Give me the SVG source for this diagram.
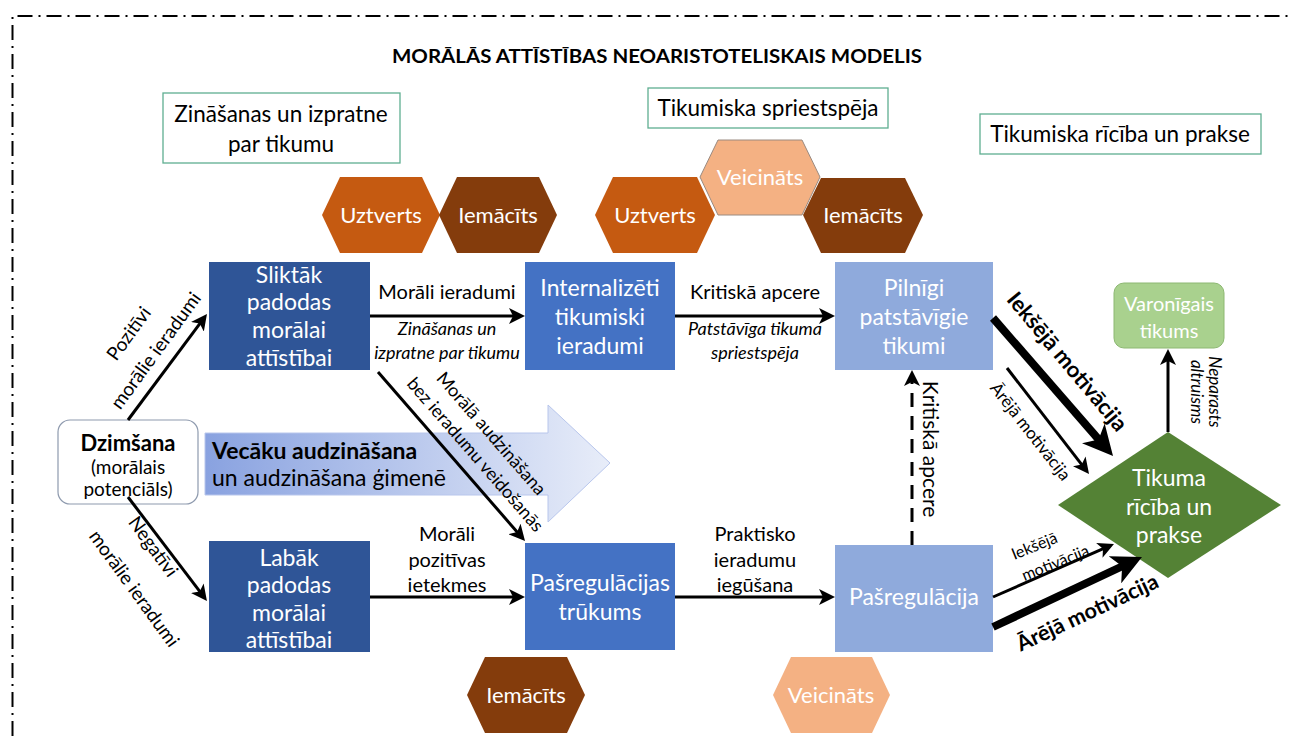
<svg xmlns="http://www.w3.org/2000/svg" width="1290" height="736" viewBox="0 0 1290 736">
<style>
text{font-family:Lato,"Open Sans","DejaVu Sans",sans-serif;fill:#000}
.t{font-size:20px;text-anchor:middle}
.bx{font-size:22.5px;text-anchor:middle}
.it{font-size:18px;font-style:italic;text-anchor:middle}
.w{fill:#fff;font-size:23px;text-anchor:middle}
.hx{fill:#fff;font-size:22px;text-anchor:middle}
.rot{dominant-baseline:central;text-anchor:middle}
.ln{stroke:#000;stroke-width:3;fill:none}
.thick{stroke:#000;stroke-width:8;fill:none}
.lbl{fill:#fff;stroke:#5FAE91;stroke-width:1.3}
</style>
<defs>
<marker id="ah" markerUnits="userSpaceOnUse" viewBox="0 0 16 16" markerWidth="16" markerHeight="16" refX="5" refY="8" orient="auto"><path d="M0,0 L16,8 L0,16 L4,8 z" fill="#000"/></marker>
<marker id="ahb" markerUnits="userSpaceOnUse" viewBox="0 0 30 30" markerWidth="30" markerHeight="30" refX="10" refY="15" orient="auto"><path d="M0,0 L30,15 L0,30 L8,15 z" fill="#000"/></marker>
<linearGradient id="gr" x1="0" y1="0" x2="1" y2="0"><stop offset="0" stop-color="#89A2E0"/><stop offset="1" stop-color="#E8EDF9"/></linearGradient>
</defs>
<rect width="1290" height="736" fill="#fff"/>
<path d="M12.5,736 L12.5,16 L1290,16" fill="none" stroke="#000" stroke-width="2" stroke-dasharray="15 6 2 6"/>
<text x="657" y="63" style="font-size:18px;font-weight:bold;text-anchor:middle" textLength="530" lengthAdjust="spacingAndGlyphs">MORĀLĀS ATTĪSTĪBAS NEOARISTOTELISKAIS MODELIS</text>

<g id="box-zinasanas"><rect class="lbl" x="163" y="93" width="237" height="70"/><text class="bx" x="281" y="122">Zināšanas un izpratne</text><text class="bx" x="281" y="152">par tikumu</text></g>
<g id="box-spriestspeja"><rect class="lbl" x="648" y="88" width="240" height="40"/><text class="bx" x="768" y="116">Tikumiska spriestspēja</text></g>
<g id="box-ririba"><rect class="lbl" x="980" y="114" width="281" height="40"/><text class="bx" x="1120" y="142">Tikumiska rīcība un prakse</text></g>

<g id="big-arrow"><path d="M205,433 L548,433 L548,405 L610,463 L548,522 L548,495 L205,495 z" fill="url(#gr)" stroke="#B8C6EC" stroke-width="1"/>
<text x="212" y="459" style="font-size:23px;font-weight:bold">Vecāku audzināšana</text><text x="212" y="486" style="font-size:23px">un audzināšana ģimenē</text></g>

<g id="hex-uztverts-1"><polygon points="322,215 340,177 422,177 440,215 422,253 340,253" fill="#C55A11"/><text class="hx" x="381" y="223">Uztverts</text></g>
<g id="hex-iemacits-1"><polygon points="439,215 457,177 539,177 557,215 539,253 457,253" fill="#843C0C"/><text class="hx" x="498" y="223">Iemācīts</text></g>
<g id="hex-uztverts-2"><polygon points="595,215 613,177 697,177 715,215 697,253 613,253" fill="#C55A11"/><text class="hx" x="655" y="223">Uztverts</text></g>
<g id="hex-veicinats-1"><polygon points="700,177 718,140 802,140 820,177 802,215 718,215" fill="#F4B183" stroke="#9A8A80" stroke-width="1"/><text class="hx" x="760" y="185">Veicināts</text></g>
<g id="hex-iemacits-2"><polygon points="803,215 821,178 905,178 923,215 905,253 821,253" fill="#843C0C"/><text class="hx" x="863" y="223">Iemācīts</text></g>
<g id="hex-iemacits-3"><polygon points="467,695 485,657 567,657 585,695 567,733 485,733" fill="#843C0C"/><text class="hx" x="526" y="703">Iemācīts</text></g>
<g id="hex-veicinats-2"><polygon points="773,695 791,657 872,657 890,695 872,733 791,733" fill="#F4B183"/><text class="hx" x="831" y="703">Veicināts</text></g>

<g id="n-dzimsana"><rect x="58" y="420" width="140" height="84" rx="12" fill="#fff" stroke="#8E9AAE" stroke-width="1.2"/><text x="128" y="451" style="font-size:22px;font-weight:bold;text-anchor:middle">Dzimšana</text><text x="128" y="474" style="font-size:19px;text-anchor:middle">(morālais</text><text x="128" y="496" style="font-size:19px;text-anchor:middle">potenciāls)</text></g>
<g id="n-sliktak"><rect x="209" y="262" width="161" height="108" fill="#2F5597"/><text class="w" x="289" y="283">Sliktāk</text><text class="w" x="289" y="310">padodas</text><text class="w" x="289" y="338">morālai</text><text class="w" x="289" y="366">attīstībai</text></g>
<g id="n-labak"><rect x="209" y="541" width="161" height="111" fill="#2F5597"/><text class="w" x="289" y="566">Labāk</text><text class="w" x="289" y="593">padodas</text><text class="w" x="289" y="621">morālai</text><text class="w" x="289" y="648">attīstībai</text></g>
<g id="n-internalizeti"><rect x="525" y="262" width="150" height="108" fill="#4472C4"/><text class="w" x="600" y="296">Internalizēti</text><text class="w" x="600" y="325">tikumiski</text><text class="w" x="600" y="354">ieradumi</text></g>
<g id="n-trukums"><rect x="525" y="543" width="150" height="107" fill="#4472C4"/><text class="w" x="600" y="591">Pašregulācijas</text><text class="w" x="600" y="620">trūkums</text></g>
<g id="n-pilnigi"><rect x="835" y="262" width="158" height="108" fill="#8FAADC"/><text class="w" x="914" y="296">Pilnīgi</text><text class="w" x="914" y="325">patstāvīgie</text><text class="w" x="914" y="354">tikumi</text></g>
<g id="n-pasregulacija"><rect x="835" y="545" width="158" height="107" fill="#8FAADC"/><text class="w" x="914" y="605">Pašregulācija</text></g>
<g id="n-varonigais"><rect x="1114" y="283" width="110" height="65" rx="10" fill="#A9D18E" stroke="#8DB873" stroke-width="1"/><text class="w" style="font-size:20px" x="1169" y="311">Varonīgais</text><text class="w" style="font-size:20px" x="1169" y="338">tikums</text></g>
<g id="n-tikuma"><polygon points="1168,432 1281,505 1168,578 1058,505" fill="#548235"/><text class="w" x="1169" y="486">Tikuma</text><text class="w" x="1169" y="515">rīcība un</text><text class="w" x="1169" y="543">prakse</text></g>

<g id="connectors">
<line class="ln" x1="128" y1="420" x2="200.4" y2="322.8" marker-end="url(#ah)"/>
<line class="ln" x1="128" y1="497" x2="200.3" y2="592.2" marker-end="url(#ah)"/>
<line class="ln" x1="370" y1="316" x2="514" y2="316" marker-end="url(#ah)"/>
<line class="ln" x1="675" y1="316" x2="824" y2="316" marker-end="url(#ah)"/>
<line class="ln" x1="378" y1="372" x2="517.8" y2="532.7" marker-end="url(#ah)"/>
<line class="ln" x1="370" y1="597" x2="514" y2="597" marker-end="url(#ah)"/>
<line class="ln" x1="675" y1="597" x2="824" y2="597" marker-end="url(#ah)"/>
<line class="ln" x1="912" y1="545" x2="912" y2="381" stroke-dasharray="14 9" marker-end="url(#ah)"/>
<line class="thick" x1="993" y1="318" x2="1099.9" y2="440.9" marker-end="url(#ahb)"/>
<line class="ln" x1="1007" y1="368" x2="1082.3" y2="465.3" marker-end="url(#ah)"/>
<line class="ln" x1="1168" y1="432" x2="1168" y2="360" marker-end="url(#ah)"/>
<line class="ln" x1="993" y1="597" x2="1103.9" y2="548.4" marker-end="url(#ah)"/>
<line class="thick" x1="993" y1="627" x2="1123.9" y2="565.5" marker-end="url(#ahb)"/>

<text class="t" x="447" y="299">Morāli ieradumi</text>
<text class="it" x="447" y="335">Zināšanas un</text>
<text class="it" x="447" y="359">izpratne par tikumu</text>
<text class="t" x="755" y="299">Kritiskā apcere</text>
<text class="it" x="755" y="335">Patstāvīga tikuma</text>
<text class="it" x="755" y="359">spriestspēja</text>
<text class="t" x="447" y="541">Morāli</text>
<text class="t" x="447" y="567">pozitīvas</text>
<text class="t" x="447" y="592">ietekmes</text>
<text class="t" x="755" y="541">Praktisko</text>
<text class="t" x="755" y="567">ieradumu</text>
<text class="t" x="755" y="592">iegūšana</text>

<text class="rot" style="font-size:19px" transform="translate(128,333) rotate(-54)">Pozitīvi</text>
<text class="rot" style="font-size:19px" transform="translate(155,350) rotate(-54)">morālie ieradumi</text>
<text class="rot" style="font-size:19px" transform="translate(154,546) rotate(54)">Negatīvi</text>
<text class="rot" style="font-size:19px" transform="translate(135,588) rotate(54)">morālie ieradumi</text>
<text class="rot" style="font-size:18px" transform="translate(492,433) rotate(49)">Morālā audzināšana</text>
<text class="rot" style="font-size:18px" transform="translate(476,454) rotate(49)">bez ieradumu veidošanās</text>
<text class="rot" style="font-size:21px" transform="translate(931,449) rotate(90)">Kritiskā apcere</text>
<text class="rot" style="font-size:22px;font-weight:bold" transform="translate(1068,361) rotate(50)">Iekšējā motivācija</text>
<text class="rot" style="font-size:17px" transform="translate(1031,431) rotate(52)">Ārējā motivācija</text>
<text class="rot" style="font-size:17px;font-style:italic" transform="translate(1215,392) rotate(90)">Neparasts</text>
<text class="rot" style="font-size:17px;font-style:italic" transform="translate(1197,392) rotate(90)">altruisms</text>
<text class="rot" style="font-size:16px" transform="translate(1034,545) rotate(-22)">Iekšējā</text>
<text class="rot" style="font-size:16px" transform="translate(1055,562) rotate(-22)">motivācija</text>
<text class="rot" style="font-size:21.5px;font-weight:bold" transform="translate(1087,612) rotate(-25)">Ārējā motivācija</text>
</g>
</svg>
